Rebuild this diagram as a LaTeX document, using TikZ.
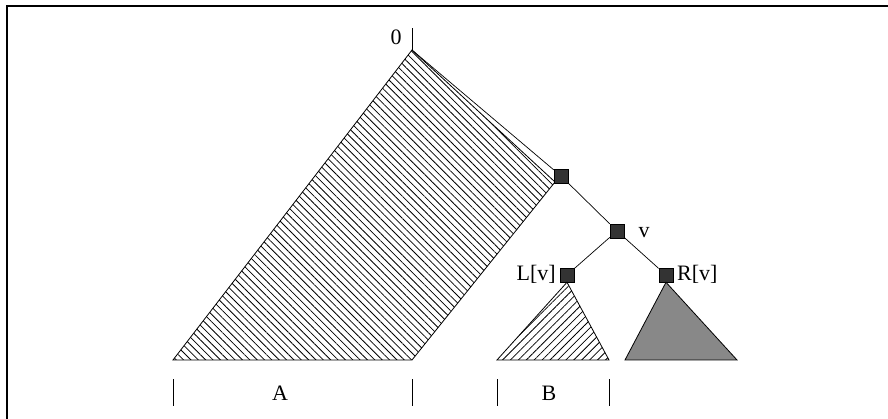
\documentclass[tikz,border=0pt]{standalone}
\usepackage{fontspec}
\setmainfont{Liberation Serif}
\usetikzlibrary{patterns.meta}
\definecolor{sqfill}{RGB}{51,51,51}
\definecolor{midgray}{RGB}{136,136,136}
\begin{document}
\begin{tikzpicture}[x=1pt,y=1pt,
  treenode/.style={draw=black, fill=sqfill, minimum size=14pt, inner sep=0pt, line width=0.6pt},
  edge/.style={line width=0.7pt},
  outline/.style={line width=0.8pt},
  tick/.style={line width=0.8pt},
  lbl/.style={font=\fontsize{22}{25}\selectfont, inner sep=0pt}]
\useasboundingbox (0,0) rectangle (888,419);
% frame (partly cut)
\draw[line width=2pt] (7,0) -- (7,413) -- (888,413);
% coordinates
\coordinate (apex) at (412,369);
\coordinate (apextop) at (412,391);
\coordinate (bigR) at (555,237);
\coordinate (bigBR) at (412,59);
\coordinate (bigBL) at (173,59);
% big hatched region
\draw[outline, pattern={Lines[angle=-45, distance=5.2pt, line width=0.8pt]}]
  (apex) -- (bigR) -- (bigBR) -- (bigBL) -- cycle;
\draw[tick] (apex) -- (apextop);
\node[lbl] (zero) at (396,382) {0};
% tree nodes
\node[treenode] (s1) at (561,243) {};
\node[treenode] (v) at (617,188) {};
\node[treenode] (L) at (567,144) {};
\node[treenode] (R) at (666,144) {};
\draw[edge] (apex) -- (s1);
\draw[edge] (s1) -- (v);
\draw[edge] (v) -- (L);
\draw[edge] (v) -- (R);
\node[lbl] (vl) at (644,186) {v};
\node[lbl, anchor=east] (Ll) at (556,145) {L[v]};
\node[lbl, anchor=west] (Rl) at (677,145) {R[v]};
% subtrees
\draw[outline, pattern={Lines[angle=45, distance=5.6pt, line width=0.8pt]}]
  (L.south) -- (609,59) -- (497,59) -- cycle;
\draw[outline, fill=midgray] (R.south) -- (737,59) -- (625,59) -- cycle;
% intervals
\foreach \x/\n in {173/ta, 412/tb, 497/tc, 609/td} {
  \coordinate (\n1) at (\x,13);
  \coordinate (\n2) at (\x,40);
  \draw[tick] (\n1) -- (\n2);
}
\node[lbl] (A) at (280,26) {A};
\node[lbl] (B) at (549,26) {B};
\end{tikzpicture}
\end{document}
